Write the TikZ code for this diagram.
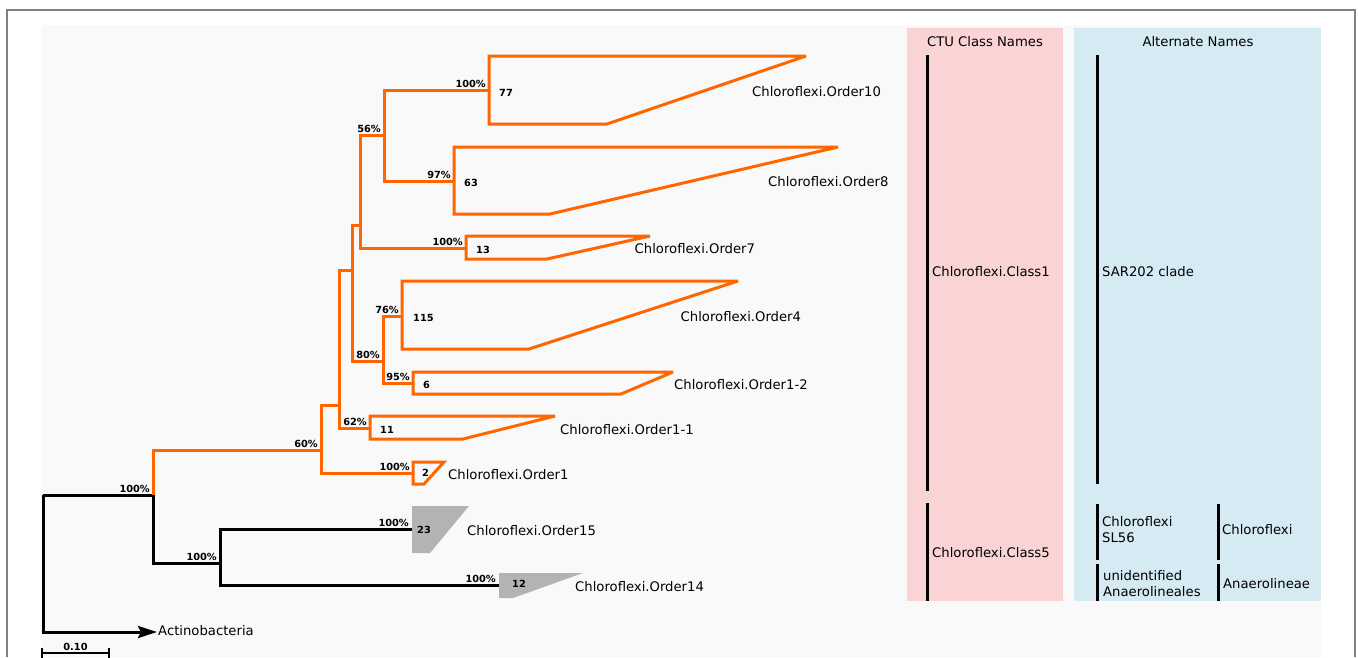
\documentclass[tikz,border=0pt]{standalone}
\usepackage{fontspec}
\setmainfont{DejaVu Sans}
\usetikzlibrary{arrows.meta}
\definecolor{clorange}{RGB}{255,102,0}
\definecolor{cladegray}{RGB}{179,179,179}
\definecolor{panelpink}{RGB}{250,212,212}
\definecolor{panelblue}{RGB}{214,234,244}
\definecolor{bggray}{RGB}{249,249,249}
\definecolor{framegray}{RGB}{128,128,128}
\begin{document}
\begin{tikzpicture}[x=1pt,y=-1pt,
  obr/.style={draw=clorange, line width=3pt},
  bbr/.style={draw=black, line width=3pt},
  oclade/.style={draw=clorange, line width=3pt, line join=miter, miter limit=3},
  gclade/.style={fill=cladegray, draw=none},
  taxon/.style={anchor=base west, inner sep=0pt, font=\fontsize{13.2}{16}\selectfont},
  supp/.style={anchor=base east, inner sep=0pt, font=\fontsize{9.8}{12}\selectfont\bfseries},
  count/.style={anchor=base west, inner sep=0pt, font=\fontsize{9.8}{12}\selectfont\bfseries},
  ptitle/.style={anchor=base, inner sep=0pt, font=\fontsize{13.2}{16}\selectfont},
  ptext/.style={anchor=base west, inner sep=0pt, align=left, font=\fontsize{13.2}{16}\selectfont},
  pbar/.style={draw=black, line width=3pt},
]
\useasboundingbox (0,0) rectangle (1358,657);
% frame and backgrounds
\fill[white] (0,0) rectangle (1358,657);
\fill[bggray] (41,25) rectangle (1321,657);
\draw[framegray, line width=2pt] (7,657) -- (7,10) -- (1355,10) -- (1355,657);
\fill[panelpink] (907,28) rectangle (1063,601);
\fill[panelblue] (1074,28) rectangle (1321,601);

% tree coordinates
\coordinate (root) at (43,495);
\coordinate (n1) at (153,495);
\coordinate (n2) at (321,450);
\coordinate (n3) at (339,405);
\coordinate (n4) at (352,270);
\coordinate (n5) at (360,225);
\coordinate (n7) at (384,135);
\coordinate (n6) at (383,361);
\coordinate (n8) at (220,563);
\coordinate (o10) at (489,90);
\coordinate (o8) at (454,181);
\coordinate (o7) at (466,248);
\coordinate (o4) at (402,316);
\coordinate (o12) at (413,383);
\coordinate (o11) at (370,428);
\coordinate (o1) at (413,473);
\coordinate (o15) at (412,529);
\coordinate (o14) at (499,585);
\coordinate (actino) at (157,632);

% collapsed clades
\draw[oclade] (o10) -- (489,56) -- (806,56) -- (607,124) -- (489,124) -- cycle;
\draw[oclade] (o8) -- (454,147) -- (838,147) -- (550,214) -- (454,214) -- cycle;
\draw[oclade] (o7) -- (466,236) -- (650,236) -- (547,259) -- (466,259) -- cycle;
\draw[oclade] (o4) -- (402,281) -- (738,281) -- (529,349) -- (402,349) -- cycle;
\draw[oclade] (o12) -- (413,372) -- (673,372) -- (621,394) -- (413,394) -- cycle;
\draw[oclade] (o11) -- (370,416) -- (555,416) -- (463,439) -- (370,439) -- cycle;
\draw[oclade] (o1) -- (413,462) -- (444,462) -- (424,484) -- (413,484) -- cycle;
\fill[gclade] (412,506) -- (469,506) -- (430,553) -- (412,553) -- cycle;
\fill[gclade] (499,573) -- (583,573) -- (513,598) -- (499,598) -- cycle;

% branches
\draw[bbr] (root) -- (n1);
\draw[bbr, -{Stealth[length=19pt,width=12pt,inset=3pt]}] (root) |- (actino);
\draw[bbr] (n1) |- (n8);
\draw[obr] (n1) |- (n2);
\draw[obr] (n2) |- (n3);
\draw[obr] (n2) |- (o1);
\draw[obr] (n3) |- (n4);
\draw[obr] (n3) |- (o11);
\draw[obr] (n4) |- (n5);
\draw[obr] (n4) |- (n6);
\draw[obr] (n5) |- (n7);
\draw[obr] (n5) |- (o7);
\draw[obr] (n7) |- (o10);
\draw[obr] (n7) |- (o8);
\draw[obr] (n6) |- (o4);
\draw[obr] (n6) |- (o12);
\draw[bbr] (n8) |- (o15);
\draw[bbr] (n8) |- (o14);

% support values
\path (o10) ++(-3,-2.5) node[supp] (s1) {100\%};
\path (o8) ++(-3,-2.5) node[supp] (s2) {97\%};
\path (n7) ++(-3,-2.5) node[supp] (s3) {56\%};
\path (o7) ++(-3,-2.5) node[supp] (s4) {100\%};
\path (o4) ++(-3,-2.5) node[supp] (s5) {76\%};
\path (o12) ++(-3,-2.5) node[supp] (s6) {95\%};
\path (n6) ++(-3,-2.5) node[supp] (s7) {80\%};
\path (o11) ++(-3,-2.5) node[supp] (s8) {62\%};
\path (o1) ++(-3,-2.5) node[supp] (s9) {100\%};
\path (n2) ++(-3,-2.5) node[supp] (s10) {60\%};
\path (n1) ++(-3,-2.5) node[supp] (s11) {100\%};
\path (n8) ++(-3,-2.5) node[supp] (s12) {100\%};
\path (o15) ++(-3,-2.5) node[supp] (s13) {100\%};
\path (o14) ++(-3,-2.5) node[supp] (s14) {100\%};

% clade sizes
\node[count] (c10) at (499,96) {77};
\node[count] (c8) at (464,186) {63};
\node[count] (c7) at (476,253.5) {13};
\node[count] (c4) at (413,321) {115};
\node[count] (c12) at (423,388.5) {6};
\node[count] (c11) at (380,433.5) {11};
\node[count] (c1) at (422,476.5) {2};
\node[count] (c15) at (417,533.5) {23};
\node[count] (c14) at (512,587.5) {12};

% taxon labels
\node[taxon] (t10) at (752,96.7) {Chloroflexi.Order10};
\node[taxon] (t8) at (768,186.5) {Chloroflexi.Order8};
\node[taxon] (t7) at (634.5,253) {Chloroflexi.Order7};
\node[taxon] (t4) at (680.5,321.5) {Chloroflexi.Order4};
\node[taxon] (t12) at (674,389) {Chloroflexi.Order1-2};
\node[taxon] (t11) at (560,434) {Chloroflexi.Order1-1};
\node[taxon] (t1) at (448,479) {Chloroflexi.Order1};
\node[taxon] (t15) at (467,535.5) {Chloroflexi.Order15};
\node[taxon] (t14) at (575,591.5) {Chloroflexi.Order14};
\node[taxon] (tact) at (158,635) {Actinobacteria};

% scale bar
\coordinate (sb1) at (42,653);
\coordinate (sb2) at (109,653);
\draw[line width=1.3pt] (42,648) -- (sb1) -- (sb2) -- (109,648);
\draw[line width=1.3pt] (sb1) -- (42,658);
\draw[line width=1.3pt] (sb2) -- (109,658);
\node[count, anchor=base] (sbl) at (75.5,650) {0.10};

% panels
\node[ptitle] (pt1) at (985,46) {CTU Class Names};
\node[ptitle] (pt2) at (1198,46) {Alternate Names};
\draw[pbar] (927,55) -- (927,491);
\draw[pbar] (927,503) -- (927,601);
\draw[pbar] (1097,55) -- (1097,484);
\draw[pbar] (1097,504) -- (1097,560);
\draw[pbar] (1097,564) -- (1097,601);
\draw[pbar] (1218,504) -- (1218,560);
\draw[pbar] (1218,564) -- (1218,601);
\node[ptext] (p1) at (932,276) {Chloroflexi.Class1};
\node[ptext] (p2) at (1102,276) {SAR202 clade};
\node[ptext] (p3) at (932,557) {Chloroflexi.Class5};
\node[ptext] (p4) at (1102,542) {Chloroflexi\\SL56};
\node[ptext] (p5) at (1222,534) {Chloroflexi};
\node[ptext] (p6) at (1103,596) {unidentified\\Anaerolineales};
\node[ptext] (p7) at (1223,588) {Anaerolineae};
\end{tikzpicture}
\end{document}
